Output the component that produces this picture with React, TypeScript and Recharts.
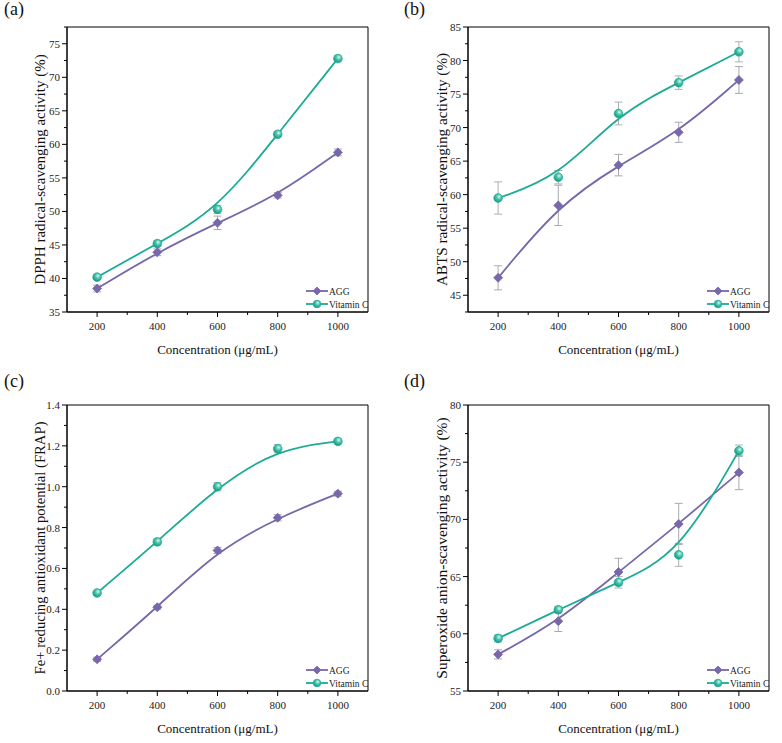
import React from "react";
import { LineChart, Line, XAxis, YAxis, ErrorBar, ReferenceArea } from "recharts";

const FONT = '"Liberation Serif", "Times New Roman", serif';
const AGG_COLOR = "#7867ab";
const VC_COLOR = "#1cab95";

const concentrations = [200, 400, 600, 800, 1000];
const xTicks = [200, 300, 400, 500, 600, 700, 800, 900, 1000];

// (a) DPPH
const dpphAgg = [38.5, 43.9, 48.3, 52.4, 58.8];
const dpphAggErr = [0.5, 0.5, 1.0, 0.4, 0.5];
const dpphVc = [40.2, 45.2, 50.3, 61.5, 72.8];
const dpphVcErr = [0.4, 0.4, 0.6, 0.4, 0.4];

// (b) ABTS
const abtsAgg = [47.6, 58.4, 64.4, 69.3, 77.1];
const abtsAggErr = [1.8, 3.0, 1.6, 1.5, 2.0];
const abtsVc = [59.5, 62.6, 72.1, 76.7, 81.3];
const abtsVcErr = [2.4, 1.0, 1.7, 1.0, 1.5];

// (c) FRAP
const frapAgg = [0.155, 0.41, 0.688, 0.848, 0.966];
const frapAggErr = [0.01, 0.01, 0.015, 0.015, 0.012];
const frapVc = [0.48, 0.73, 1.0, 1.186, 1.222];
const frapVcErr = [0.01, 0.015, 0.02, 0.02, 0.012];

// (d) superoxide anion
const soAgg = [58.2, 61.1, 65.4, 69.6, 74.1];
const soAggErr = [0.4, 0.9, 1.2, 1.8, 1.5];
const soVc = [59.6, 62.1, 64.5, 66.9, 76.0];
const soVcErr = [0.3, 0.3, 0.5, 1.0, 0.5];

const ticksA = [35, 37.5, 40, 42.5, 45, 47.5, 50, 52.5, 55, 57.5, 60, 62.5, 65, 67.5, 70, 72.5, 75, 77.5];
const ticksB = [42.5, 45, 47.5, 50, 52.5, 55, 57.5, 60, 62.5, 65, 67.5, 70, 72.5, 75, 77.5, 80, 82.5, 85];
const ticksC = [0, 0.1, 0.2, 0.3, 0.4, 0.5, 0.6, 0.7, 0.8, 0.9, 1.0, 1.1, 1.2, 1.3, 1.4];
const ticksD = [55, 57.5, 60, 62.5, 65, 67.5, 70, 72.5, 75, 77.5, 80];

function buildRows(agg: number[], aggErr: number[], vc: number[], vcErr: number[]) {
  return concentrations.map((c, i) => ({ c, agg: agg[i], aggErr: aggErr[i], vc: vc[i], vcErr: vcErr[i] }));
}

const XTick = (props: any) => {
  const { x, y, payload } = props;
  const v = payload.value;
  const major = v % 200 === 0;
  return (
    <g>
      <line x1={x} x2={x} y1={y} y2={y + (major ? 5 : 3)} stroke="#000" strokeWidth={1} />
      {major && (
        <text x={x} y={y + 18} textAnchor="middle" fontSize={11} fontFamily={FONT} fill="#222">
          {v}
        </text>
      )}
    </g>
  );
};

function makeYTick(step: number, digits: number) {
  return (props: any) => {
    const { x, y, payload } = props;
    const v = payload.value;
    const r = v / step;
    const major = Math.abs(r - Math.round(r)) < 1e-6;
    return (
      <g>
        <line x1={x} x2={x - (major ? 5 : 3)} y1={y} y2={y} stroke="#000" strokeWidth={1} />
        {major && (
          <text x={x - 7} y={y + 4} textAnchor="end" fontSize={11} fontFamily={FONT} fill="#222">
            {v.toFixed(digits)}
          </text>
        )}
      </g>
    );
  };
}

const Diamond = ({ cx, cy, size = 4.5 }: { cx: number; cy: number; size?: number }) => (
  <path
    d={`M${cx},${cy - size}L${cx + size},${cy}L${cx},${cy + size}L${cx - size},${cy}Z`}
    fill={AGG_COLOR}
    stroke={AGG_COLOR}
    strokeWidth={0.8}
  />
);

const Ball = ({ cx, cy, r = 4.3 }: { cx: number; cy: number; r?: number }) => (
  <circle cx={cx} cy={cy} r={r} fill="url(#vcBall)" stroke={VC_COLOR} strokeWidth={0.8} />
);

const LegendBox = () => (
  <svg width={70} height={28} style={{ display: "block", overflow: "visible" }}>
    <line x1={1} x2={23} y1={7} y2={7} stroke={AGG_COLOR} strokeWidth={1.8} />
    <Diamond cx={12} cy={7} size={4} />
    <text x={24} y={10.5} fontSize={9.5} fontFamily={FONT} fill="#222">AGG</text>
    <line x1={1} x2={23} y1={20} y2={20} stroke={VC_COLOR} strokeWidth={1.8} />
    <Ball cx={12} cy={20} r={3.8} />
    <text x={24} y={23.5} fontSize={9.5} fontFamily={FONT} fill="#222">Vitamin C</text>
  </svg>
);

type PanelProps = {
  tag: string;
  yLabel: string;
  yLabelSize: number;
  rows: any[];
  yDomain: [number, number];
  yTicks: number[];
  yStep: number;
  yDigits: number;
  height: number;
  plotLeft: number;
  plotRight: number;
  plotTop: number;
  plotBottom: number;
  tagX: number;
};

function Panel(p: PanelProps) {
  const width = 391;
  const YTick = makeYTick(p.yStep, p.yDigits);
  return (
    <div style={{ position: "relative", width, height: p.height }}>
      <div
        style={{
          position: "absolute",
          left: p.tagX,
          top: -1,
          fontFamily: FONT,
          fontSize: 18,
          color: "#111",
          zIndex: 2,
        }}
      >
        {p.tag}
      </div>
      <LineChart
        width={width}
        height={p.height}
        data={p.rows}
        margin={{ top: p.plotTop, right: width - p.plotRight, bottom: 0, left: 0 }}
      >
        <defs>
          <radialGradient id="vcBall" cx="60%" cy="35%" r="65%">
            <stop offset="0%" stopColor="#d8f7ef" />
            <stop offset="45%" stopColor="#4cc4ae" />
            <stop offset="100%" stopColor="#14997f" />
          </radialGradient>
        </defs>
        <XAxis
          dataKey="c"
          type="number"
          domain={[100, 1100]}
          ticks={xTicks}
          interval={0}
          height={p.height - p.plotBottom}
          tickSize={0}
          tickMargin={0}
          tickLine={false}
          axisLine={{ stroke: "#000", strokeWidth: 1 }}
          tick={<XTick />}
          label={{
            content: (lp: any) => {
              const vb = lp.viewBox;
              return (
                <text
                  x={vb.x + vb.width / 2}
                  y={vb.y + 42}
                  textAnchor="middle"
                  fontSize={13}
                  fontFamily={FONT}
                  fill="#111"
                >
                  Concentration (μg/mL)
                </text>
              );
            },
          }}
        />
        <YAxis
          type="number"
          domain={p.yDomain}
          ticks={p.yTicks}
          interval={0}
          allowDataOverflow
          width={p.plotLeft}
          tickSize={0}
          tickMargin={0}
          tickLine={false}
          axisLine={{ stroke: "#000", strokeWidth: 1 }}
          tick={<YTick />}
          label={{
            content: (lp: any) => {
              const vb = lp.viewBox;
              const cx = vb.x + vb.width - 27;
              const cy = vb.y + vb.height / 2;
              return (
                <text
                  x={cx}
                  y={cy}
                  transform={`rotate(-90 ${cx} ${cy})`}
                  textAnchor="middle"
                  dominantBaseline="central"
                  fontSize={p.yLabelSize}
                  fontFamily={FONT}
                  fill="#111"
                >
                  {p.yLabel}
                </text>
              );
            },
          }}
        />
        <ReferenceArea
          x1={100}
          x2={1100}
          y1={p.yDomain[0]}
          y2={p.yDomain[1]}
          fill="none"
          fillOpacity={0}
          stroke="#000"
          strokeWidth={1}
        />
        <Line
          dataKey="agg"
          type="basis"
          stroke={AGG_COLOR}
          strokeWidth={1.8}
          isAnimationActive={false}
          dot={(d: any) => <Diamond key={`a${d.index}`} cx={d.cx} cy={d.cy} />}
          activeDot={false}
        >
          <ErrorBar dataKey="aggErr" direction="y" width={4} stroke="#a9a9b3" strokeWidth={1} />
        </Line>
        <Line
          dataKey="vc"
          type="basis"
          stroke={VC_COLOR}
          strokeWidth={1.8}
          isAnimationActive={false}
          dot={(d: any) => <Ball key={`v${d.index}`} cx={d.cx} cy={d.cy} />}
          activeDot={false}
        >
          <ErrorBar dataKey="vcErr" direction="y" width={4} stroke="#a9b3b1" strokeWidth={1} />
        </Line>
      </LineChart>
      <div style={{ position: "absolute", left: p.plotRight - 63, top: p.plotBottom - 28 }}>
        <LegendBox />
      </div>
    </div>
  );
}

export default function App() {
  return (
    <div
      style={{
        position: "absolute",
        left: 0,
        top: 0,
        width: 782,
        height: 743,
        background: "#fff",
        display: "grid",
        gridTemplateColumns: "391px 391px",
        gridTemplateRows: "372px 371px",
      }}
    >
      <Panel
        tag="(a)"
        yLabel="DPPH radical-scavenging activity (%)"
        yLabelSize={15}
        rows={buildRows(dpphAgg, dpphAggErr, dpphVc, dpphVcErr)}
        yDomain={[35, 77.5]}
        yTicks={ticksA}
        yStep={5}
        yDigits={0}
        height={372}
        plotLeft={67}
        plotRight={368}
        plotTop={27}
        plotBottom={312}
        tagX={4}
      />
      <Panel
        tag="(b)"
        yLabel="ABTS radical-scavenging activity (%)"
        yLabelSize={15.2}
        rows={buildRows(abtsAgg, abtsAggErr, abtsVc, abtsVcErr)}
        yDomain={[42.5, 85]}
        yTicks={ticksB}
        yStep={5}
        yDigits={0}
        height={372}
        plotLeft={77}
        plotRight={378}
        plotTop={27}
        plotBottom={312}
        tagX={13}
      />
      <Panel
        tag="(c)"
        yLabel="Fe+ reducing antioxidant potential (FRAP)"
        yLabelSize={14.7}
        rows={buildRows(frapAgg, frapAggErr, frapVc, frapVcErr)}
        yDomain={[0, 1.4]}
        yTicks={ticksC}
        yStep={0.2}
        yDigits={1}
        height={371}
        plotLeft={67}
        plotRight={368}
        plotTop={33}
        plotBottom={319}
        tagX={4}
      />
      <Panel
        tag="(d)"
        yLabel="Superoxide anion-scavenging activity (%)"
        yLabelSize={15.5}
        rows={buildRows(soAgg, soAggErr, soVc, soVcErr)}
        yDomain={[55, 80]}
        yTicks={ticksD}
        yStep={5}
        yDigits={0}
        height={371}
        plotLeft={77}
        plotRight={378}
        plotTop={33}
        plotBottom={319}
        tagX={13}
      />
    </div>
  );
}
